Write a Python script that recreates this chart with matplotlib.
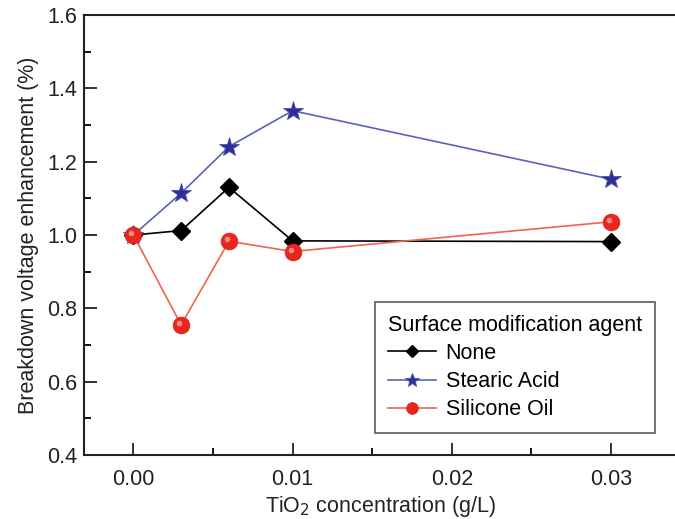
import matplotlib
matplotlib.use("Agg")
import matplotlib.pyplot as plt
import matplotlib.transforms as mtransforms
from matplotlib.ticker import MultipleLocator

plt.rcParams['font.family'] = ['Liberation Sans', 'DejaVu Sans']

conc = [0.0, 0.003, 0.006, 0.01, 0.03]
none_vals = [1.0, 1.012, 1.130, 0.984, 0.982]
stearic_vals = [1.0, 1.114, 1.241, 1.339, 1.152]
silicone_vals = [1.0, 0.755, 0.983, 0.955, 1.036]
series_names = ["None", "Stearic Acid", "Silicone Oil"]
xticks = [0.00, 0.01, 0.02, 0.03]
xtick_labels = ["0.00", "0.01", "0.02", "0.03"]
yticks = [0.4, 0.6, 0.8, 1.0, 1.2, 1.4, 1.6]

fig = plt.figure(figsize=(6.75, 5.19), dpi=100)
ax = fig.add_axes([84/675, 1 - 455/519, 1 - 84/675 + 0.002, (455-15)/519])

l_none, = ax.plot(conc, none_vals, color='black', lw=1.2, marker='D',
                  ms=9, mfc='black', mec='black', zorder=3, label=series_names[0])
l_st, = ax.plot(conc, stearic_vals, color='#5a63b8', lw=1.2, marker='*',
                ms=15, mfc='#2b2f96', mec='#4a50b0', mew=0.6, zorder=4, label=series_names[1])
l_si, = ax.plot(conc, silicone_vals, color='#f2644a', lw=1.2, marker='o',
                ms=12, mfc='#e8261e', mec='#d42a20', mew=0.6, zorder=5, label=series_names[2])
# highlight on sphere markers
off = mtransforms.ScaledTranslation(-2/100, 2/100, fig.dpi_scale_trans)
ax.plot(conc, silicone_vals, ls='none', marker='o', ms=4, mfc='#f5a29a', mec='none',
        alpha=0.8, zorder=6, transform=ax.transData + off)

ax.set_xlim(-0.0031, 0.0341)
ax.set_ylim(0.4, 1.6)
ax.set_xticks(xticks)
ax.set_xticklabels(xtick_labels)
ax.set_yticks(yticks)
ax.xaxis.set_minor_locator(MultipleLocator(0.005))
ax.yaxis.set_minor_locator(MultipleLocator(0.1))
ax.tick_params(which='major', direction='in', length=9, width=1.3, labelsize=15.5,
               colors='#222222')
ax.tick_params(axis='x', which='major', pad=10)
ax.tick_params(axis='y', which='major', pad=5)
ax.tick_params(which='minor', direction='in', length=5, width=1.3)
ax.tick_params(axis='x', which='both', top=False)
ax.tick_params(axis='y', which='both', right=False)
for s in ['left', 'bottom', 'top']:
    ax.spines[s].set_linewidth(1.5)
    ax.spines[s].set_color('#222222')
ax.spines['right'].set_visible(False)

ax.set_xlabel("TiO$_2$ concentration (g/L)", fontsize=15.5, color='#222222', labelpad=3)
ax.set_ylabel("Breakdown voltage enhancement (%)", fontsize=15.5, color='#222222', labelpad=6)

leg = ax.legend(handles=[l_none, l_st, l_si], title="Surface modification agent",
                loc='upper left', bbox_to_anchor=((374-84)/591, 1 - (302-15)/440),
                fontsize=15.5, title_fontsize=15.5, frameon=True, fancybox=False,
                edgecolor='#333333', handlelength=2.25, handletextpad=0.45,
                borderpad=0.6, labelspacing=0.33, markerscale=0.7,
                alignment='left', borderaxespad=0)
leg.get_frame().set_linewidth(1.2)

fig.savefig("out.png", dpi=100)
